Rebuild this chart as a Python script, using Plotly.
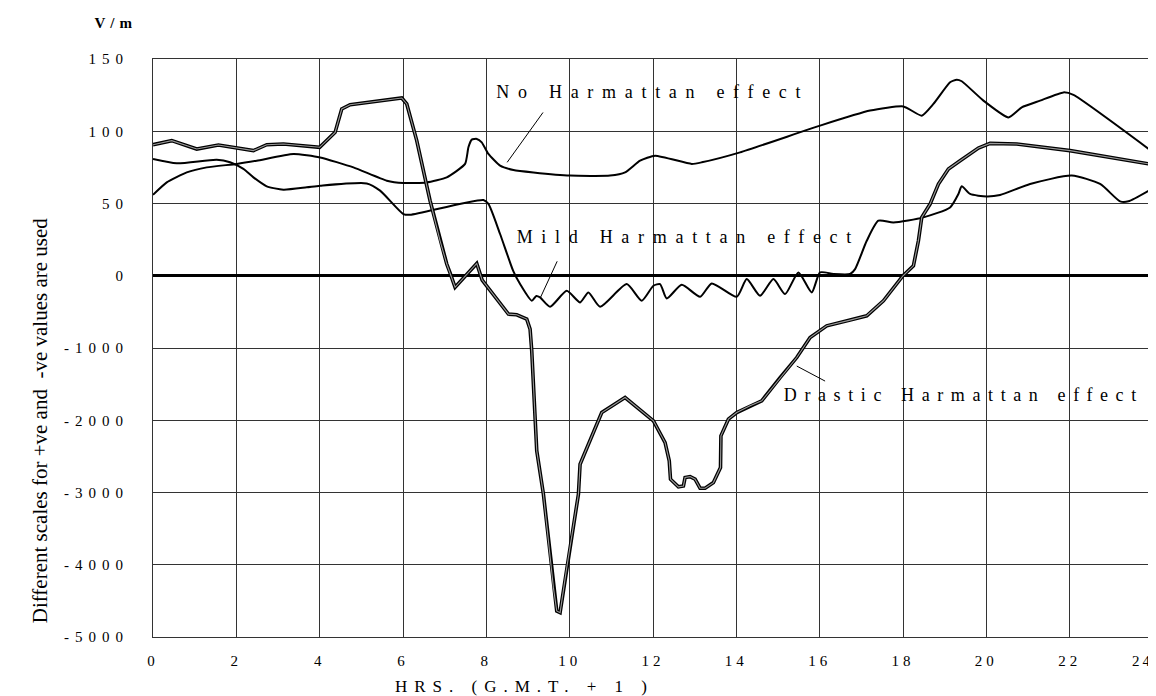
import plotly.graph_objects as go

# ---------------- data (hours, V/m) ----------------
drastic_hours = [0, 0.45, 1.05, 1.57, 2.41, 2.73, 3.13, 4.0, 4.37, 4.53, 4.73, 5.97, 6.09, 6.33, 6.65,
                 6.89, 7.05, 7.13, 7.25, 7.77, 7.86, 7.9, 8.53, 8.73, 8.97, 9.05, 9.09, 9.13, 9.17, 9.21,
                 9.37, 9.61, 9.69, 9.77, 9.93, 10.21, 10.25, 10.77, 11.33, 12.01, 12.29, 12.39, 12.42,
                 12.61, 12.73, 12.77, 12.89, 13.01, 13.13, 13.25, 13.45, 13.62, 13.63, 13.81, 14.01,
                 14.33, 14.61, 15.05, 15.45, 15.77, 16.17, 16.73, 17.13, 17.53, 18.0, 18.25, 18.37,
                 18.45, 18.65, 18.85, 19.09, 19.37, 19.81, 20.09, 20.73, 22.01, 23.9]
drastic_values = [90.7, 93.5, 87.7, 90.5, 86.6, 90.7, 91.2, 88.9, 99.2, 115.4, 118.4, 123.0, 118.9, 93.5, 51.9,
                  24.2, 8.1, 2.0, -160, 8.5, 1.0, -60, -531, -540, -600, -740, -1039, -1454, -2008, -2424,
                  -3024, -4317, -4640, -4663, -4040, -3024, -2608, -1893, -1685, -2008, -2309, -2562, -2816,
                  -2922, -2909, -2793, -2780, -2816, -2941, -2941, -2863, -2655, -2216, -1985, -1893,
                  -1800, -1731, -1409, -1132, -855, -693, -614, -554, -346, 0, 6.9, 24.2,
                  40.4, 49.6, 63.5, 73.9, 79.6, 88.4, 91.6, 91.2, 86.6, 77.4]

no_hours = [0, 0.33, 0.81, 1.29, 2.01, 2.49, 3.37, 4.01, 4.81, 5.61, 6.01, 6.57, 7.05, 7.49, 7.57, 7.65,
            7.77, 7.89, 8.05, 8.33, 8.65, 9.13, 10.01, 10.97, 11.33, 11.69, 12.05, 12.93, 13.17, 14.09,
            16.01, 17.21, 18.01, 18.45, 18.73, 19.13, 19.29, 19.41, 19.93, 20.53, 20.85, 21.29, 21.85,
            22.09, 23.9]
no_values = [56.0, 64.6, 71.5, 75.0, 77.4, 79.6, 84.3, 81.9, 75.0, 65.8, 64.2, 64.6, 68.1, 77.4, 88.9, 94.2,
             94.7, 92.3, 84.3, 76.2, 73.2, 71.5, 69.3, 69.3, 71.5, 79.6, 83.1, 77.4, 78.5, 85.4,
             103.9, 114.3, 117.2, 110.8, 118.9, 133.9, 135.7, 134.6, 121.2, 109.6, 116.6, 121.2, 126.9,
             125.2, 87.7]

mild_hours = [0, 0.57, 1.53, 1.85, 2.17, 2.41, 2.73, 3.13, 3.69, 4.01, 5.13, 5.45, 6.01, 6.17, 7.93, 8.05,
              8.33, 8.65, 8.81, 9.09, 9.2, 9.29, 9.53, 9.93, 10.25, 10.45, 10.73, 11.37, 11.73, 12.01,
              12.17, 12.33, 12.69, 13.13, 13.41, 14.01, 14.25, 14.57, 14.89, 15.17, 15.49, 15.81, 16.01,
              16.33, 16.73, 16.85, 17.13, 17.41, 17.77, 18.49, 19.13, 19.33, 19.41, 19.61, 20.01, 20.33,
              21.05, 22.05, 22.73, 23.21, 23.41, 23.9]
mild_values = [80.8, 77.8, 80.3, 78.5, 73.9, 68.1, 61.9, 59.6, 61.2, 62.3, 63.9, 58.9, 42.7, 42.2, 52.4, 49.7,
               28.9, 3.0, -115, -346, -280, -300, -429, -208, -369, -231, -429, -115, -346, -138,
               -115, -314, -125, -291, -106, -291, -46, -277, -46, -254, 2.3, -231, 2.3,
               1.2, 1.2, 4.6, 24.2, 38.1, 36.9, 40.4, 47.3, 56.6, 61.9, 56.6, 54.9, 55.9,
               63.5, 69.3, 63.5, 51.5, 51.5, 58.9]

y_tick_values = [150, 100, 50, 0, -1000, -2000, -3000, -4000, -5000]
y_tick_labels = ["150", "100", "50", "0", "-1000", "-2000", "-3000", "-4000", "-5000"]
x_tick_values = list(range(0, 25, 2))
x_tick_labels = [str(v) for v in x_tick_values]

labels = ["No Harmattan effect", "Mild Harmattan effect", "Drastic Harmattan effect"]


# Different scales for +ve and -ve values: 50 V/m per division above 0, 1000 V/m below
def scale(v):
    return v / 50.0 if v >= 0 else v / 1000.0


FONT = "Liberation Serif"

fig = go.Figure()

fig.add_trace(go.Scatter(x=no_hours, y=[scale(v) for v in no_values], mode="lines",
                         line=dict(color="black", width=2, shape="spline", smoothing=0.5),
                         name=labels[0], hoverinfo="skip"))
fig.add_trace(go.Scatter(x=mild_hours, y=[scale(v) for v in mild_values], mode="lines",
                         line=dict(color="black", width=2, shape="spline", smoothing=0.6),
                         name=labels[1], hoverinfo="skip"))
fig.add_trace(go.Scatter(x=drastic_hours, y=[scale(v) for v in drastic_values], mode="lines",
                         line=dict(color="black", width=3.6), name=labels[2], hoverinfo="skip"))
fig.add_trace(go.Scatter(x=drastic_hours, y=[scale(v) for v in drastic_values], mode="lines",
                         line=dict(color="#9a9a9a", width=1.1), name=labels[2], hoverinfo="skip"))

# white boxes behind labels (hide gridlines, stay under the curves)
for x0, x1, y0, y1 in [(0.342, 0.657, 0.886, 0.976), (0.357, 0.707, 0.638, 0.721),
                       (0.627, 0.992, 0.3875, 0.474), (0.347, 0.40, 0.868, 0.886),
                       (0.375, 0.40, 0.612, 0.638)]:
    fig.add_shape(type="rect", xref="paper", yref="paper", x0=x0, x1=x1, y0=y0, y1=y1,
                  fillcolor="white", line=dict(width=0), layer="between")

# leader lines from labels to curves
for (hx0, v0, hx1, v1) in [(9.36, 113, 8.5, 78.5), (9.70, 10, 9.30, -300), (16.13, -1458, 15.45, -1250)]:
    fig.add_shape(type="line", xref="x", yref="y", x0=hx0, y0=scale(v0), x1=hx1, y1=scale(v1),
                  line=dict(color="black", width=1), layer="above")

ann_font = dict(family=FONT, size=18, color="black")
fig.add_annotation(text=labels[0], xref="paper", yref="paper", x=0.5, y=0.943, showarrow=False,
                   font=ann_font, xanchor="center", yanchor="middle")
fig.add_annotation(text=labels[1], xref="paper", yref="paper", x=0.535, y=0.692, showarrow=False,
                   font=ann_font, xanchor="center", yanchor="middle")
fig.add_annotation(text=labels[2], xref="paper", yref="paper", x=0.811, y=0.419, showarrow=False,
                   font=ann_font, xanchor="center", yanchor="middle")
fig.add_annotation(text="V/m", xref="paper", yref="paper", x=-0.037, y=1.062, showarrow=False,
                   font=dict(family=FONT, size=15, color="black", weight="bold"),
                   xanchor="center", yanchor="middle")
fig.add_annotation(text="HRS. (G.M.T. + 1 )", xref="paper", yref="paper", x=0.371, y=-0.085,
                   showarrow=False, font=dict(family=FONT, size=17, color="black"),
                   xanchor="center", yanchor="middle")
fig.add_annotation(text="Different scales for +ve and  -ve values are used", xref="paper", yref="paper",
                   x=-0.113, y=0.375, showarrow=False, textangle=-90,
                   font=dict(family=FONT, size=21, color="black"), xanchor="center", yanchor="middle")
# last hour label sits at the very right edge of the page: keep it inside
fig.add_annotation(text=x_tick_labels[-1], xref="x", yref="paper", x=x_tick_values[-1], y=-0.041,
                   showarrow=False, font=dict(family=FONT, size=15, color="black"),
                   xanchor="right", yanchor="middle")

# the page body has an 8px margin, so the figure is sized to fit the 1156x696 window
fig.update_layout(
    width=1148, height=688, autosize=False,
    margin=dict(l=145, r=3, t=51, b=59),
    plot_bgcolor="white", paper_bgcolor="white",
    showlegend=False,
    font=dict(family=FONT, color="black"),
)
fig.update_xaxes(range=[0, 24], tickvals=x_tick_values[:-1], ticktext=x_tick_labels[:-1],
                 showgrid=True, gridcolor="#333333", gridwidth=1, zeroline=False,
                 showline=True, linecolor="#333333", linewidth=1, mirror=True, ticks="",
                 tickfont=dict(family=FONT, size=15, color="black"), ticklabelstandoff=10)
fig.update_yaxes(range=[scale(-5000), scale(150)], tickvals=[scale(v) for v in y_tick_values],
                 ticktext=y_tick_labels, showgrid=True, gridcolor="#333333", gridwidth=1,
                 zeroline=True, zerolinecolor="black", zerolinewidth=3,
                 showline=True, linecolor="#333333", linewidth=1, mirror=True, ticks="",
                 tickfont=dict(family=FONT, size=15, color="black"), ticklabelstandoff=20)

post = """
document.querySelectorAll('.ytick text').forEach(function(t){t.style.letterSpacing='6px';});
document.querySelectorAll('.xtick text').forEach(function(t){t.style.letterSpacing='4px';});
var sp = {0:'8.7px',1:'8.7px',2:'7.6px',3:'5px',4:'7px',5:'0px',6:'3px'};
document.querySelectorAll('.annotation').forEach(function(g){
  var i = g.getAttribute('data-index');
  var t = g.querySelector('.annotation-text');
  if (t && sp[i] !== undefined) { t.style.letterSpacing = sp[i]; }
});
"""
fig.write_html("out.html", post_script=post)
